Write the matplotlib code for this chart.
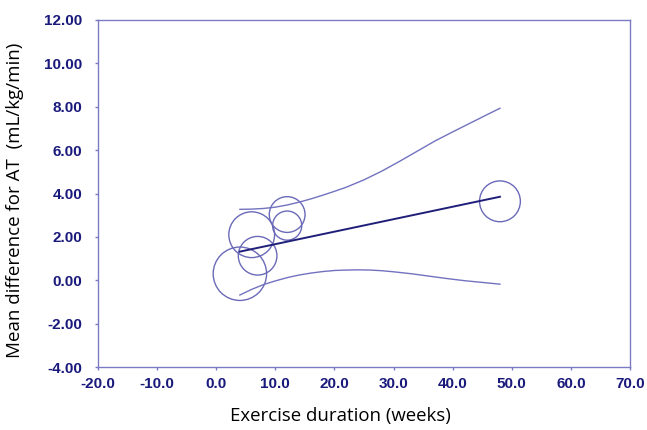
import numpy as np
import matplotlib
matplotlib.use("Agg")
import matplotlib.pyplot as plt
from matplotlib.ticker import FormatStrFormatter, MultipleLocator

# study points (exercise duration in weeks, mean difference, relative weight %)
duration = [4.0, 6.0, 7.0, 12.0, 12.0, 48.0]
mean_diff = [0.30, 2.10, 1.13, 3.03, 2.52, 3.64]
weight = [27.9, 20.5, 14.6, 12.5, 8.3, 16.3]

# regression line
reg_x = [4.0, 48.0]
reg_y = [1.32, 3.85]

# confidence bounds
upper_x = [4, 6, 8, 10, 12, 14, 16, 18, 20, 22, 25, 28, 31, 34, 37, 40, 43, 46, 48]
upper_y = [3.27, 3.28, 3.31, 3.37, 3.47, 3.60, 3.75, 3.92, 4.10, 4.29, 4.63, 5.03,
           5.48, 5.95, 6.42, 6.84, 7.25, 7.66, 7.93]
lower_x = [4, 6, 8, 10, 12, 14, 16, 18, 20, 22, 24, 26, 28, 30, 33, 36, 39, 42, 45, 48]
lower_y = [-0.68, -0.42, -0.20, -0.03, 0.12, 0.24, 0.33, 0.40, 0.45, 0.47, 0.48, 0.47,
           0.44, 0.39, 0.30, 0.19, 0.08, -0.02, -0.10, -0.18]

navy = '#1a1a7c'
lav = '#7b7bc4'
circ = '#6a6ab8'

plt.rcParams['font.family'] = 'Liberation Sans'
plt.rcParams['font.weight'] = 'bold'

fig = plt.figure(figsize=(6.47, 4.30), dpi=100)
ax = fig.add_axes([0.1515, 0.1465, 0.8222, 0.807])

ax.plot(upper_x, upper_y, color='#7272c0', linewidth=1.0)
ax.plot(lower_x, lower_y, color='#7272c0', linewidth=1.0)
ax.plot(reg_x, reg_y, color='#1f1f7a', linewidth=1.4)
ax.scatter(duration, mean_diff, s=np.array(weight) * 53.0,
           facecolors='none', edgecolors=circ, linewidths=1.0)

ax.set_xlim(-20, 70)
ax.set_ylim(-4, 12)
ax.xaxis.set_major_locator(MultipleLocator(10))
ax.yaxis.set_major_locator(MultipleLocator(2))
ax.xaxis.set_major_formatter(FormatStrFormatter('%.1f'))
ax.yaxis.set_major_formatter(FormatStrFormatter('%.2f'))

for s in ax.spines.values():
    s.set_color(lav)
    s.set_linewidth(1.0)

ax.tick_params(axis='both', direction='out', length=2.2, width=1.0, color=lav,
               labelcolor=navy, labelsize=11)
ax.tick_params(axis='y', pad=9)
ax.tick_params(axis='x', pad=5)

ax.set_xlabel("Exercise duration (weeks)", fontfamily='Open Sans', fontsize=13.4,
              fontweight='normal', color='black')
ax.set_ylabel("Mean difference for AT  (mL/kg/min)", fontfamily='Open Sans',
              fontsize=13.5, fontweight='normal', color='black')
ax.xaxis.set_label_coords(0.455, -0.115)
ax.yaxis.set_label_coords(-0.14, 0.48)

fig.savefig("out.png", dpi=100)
